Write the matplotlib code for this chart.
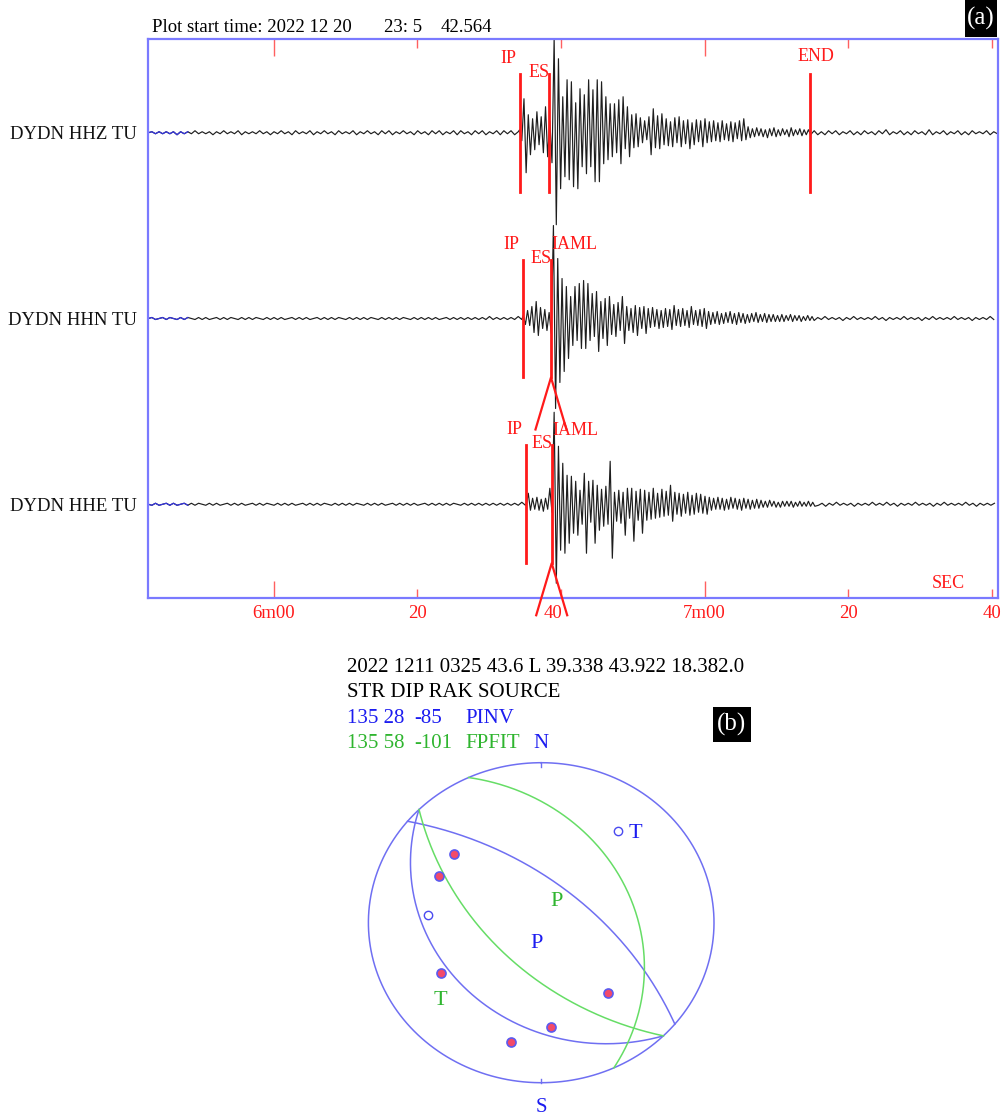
import numpy as np
import matplotlib.pyplot as plt
import matplotlib.transforms as mtransforms
from matplotlib.patches import Rectangle

plt.rcParams['font.family'] = ['Liberation Serif', 'DejaVu Serif']

W, H = 1003, 1115

# ---------------- seismogram data ----------------
stations = ['DYDN HHZ TU', 'DYDN HHN TU', 'DYDN HHE TU']
start_label = 'Plot start time: 2022 12 20'
start_hm = '23: 5'
start_sec = 42.564          # seconds after 23:05:00
start_min = 5
rec_len = 118.25            # seconds shown

AMP = 185.8                 # screen counts per trace spacing
DT_NOISE = 0.5
DT_SIG = 0.3

# pre-event noise (from plot start)
hhz_pre = [0, 1, -1, 1, -1, 1, -1, 1, -2, 1, -1, 1, -1, 2, -1, 1, -1, 1, -2, 1,
           -1, 2, -1, 1, -1, 2, -2, 1, -1, 1, -1, 2, -1, 1, -2, 1, -1, 2, -1, 1,
           -2, 2, -1, 1, -1, 2, -2, 1, -1, 2, -1, 1, -2, 2, -1, 1, -1, 2, -2, 1,
           -1, 2, -1, 1, -2, 2, -1, 2, -2, 1, -1, 2, -1, 1, -2, 2, -1, 1, -2, 2,
           -1, 2, -2, 1, -1, 2, -2, 2, -1, 1, -2, 2, -1, 2, -2, 1, -1, 2, -2, 2,
           -1, 2, -2, 1]
hhn_pre = [0, 1, -1, 0, 1, -1, 1, 0, -1, 1, -1, 1, 0, -1, 1, -1, 1, -1, 0, 1,
           -1, 1, -1, 1, 0, -1, 1, -1, 1, -1, 1, 0, -1, 1, -1, 1, -1, 1, -1, 0,
           1, -1, 1, -1, 1, -1, 0, 1, -1, 1, -1, 1, -1, 1, 0, -1, 1, -1, 1, -1,
           1, -1, 1, 0, -1, 1, -1, 1, -1, 1, -1, 1, 0, -1, 1, -1, 1, -1, 1, -1,
           1, -1, 0, 1, -1, 1, -1, 1, -1, 1, -1, 1, -1, 1, -1, 2, -1, 1, -1, 1,
           -1, 1, -1, 2, -1]
hhe_pre = [0, -1, 1, -1, 0, 1, -1, 1, -1, 0, 1, -1, 1, -1, 1, 0, -1, 1, -1, 1,
           -1, 0, 1, -1, 1, -1, 1, -1, 0, 1, -1, 1, -1, 1, 0, -1, 1, -1, 1, -1,
           1, -1, 0, 1, -1, 1, -1, 1, -1, 1, 0, -1, 1, -1, 1, -1, 1, -1, 1, 0,
           -1, 1, -1, 1, -1, 1, -1, 0, 1, -1, 1, -1, 1, -1, 1, -1, 0, 1, -1, 1,
           -1, 1, -1, 1, -1, 1, 0, -1, 1, -1, 1, -1, 1, -1, 1, -1, 1, -1, 1, -1,
           1, -1, 1, -1, 2, -1]

# signal peaks from the P onset
hhz_sig = [3, -8, 34, -40,
           18, -22, 14, -17, 21, -12, 16, -20, 26, -24,
           12, -30,
           95, -92, 74, -56,
           36, -44, 53, -47, 51, -54, 30, -56, 44, -34, 38, -41, 53, -34, 43, -49, 53, -49, 51, -31,
           36, -27, 29, -24, 29, -20, 33, -31, 36, -16, 26, -24, 18, -15, 19, -14, 15, -10, 12, -7,
           16, -22, 24, -15, 17, -16, 19, -12, 14, -13, 11, -14, 15, -10, 16, -14, 12, -11, 13, -16,
           10, -12, 13, -9, 12, -14, 14, -10,
           11, -9, 12, -8, 10, -9, 12, -7, 9, -8, 11, -9, 10, -6, 12, -8, 14, -7,
           6, -5, 4, -4, 5, -3, 4, -4, 3, -5, 4, -3, 5, -4, 3, -3, 4, -2, 3, -4,
           5, -3, 3, -2, 4, -3, 3, -2, 3, -2]
hhn_sig = [3, -6,
           8, -7, 12, -14, 17, -17, 11, -10, 9, -12,
           6, -15,
           93, -90, 60, -64,
           40, -53, 32, -40, 22, -27, 32, -22, 35, -30, 38, -30, 35, -22, 25, -18, 27, -33,
           17, -20, 20, -27, 22, -16, 14, -18, 16, -12, 22, -25,
           12, -12, 10, -14, 13, -17, 11, -10, 12, -15, 10, -9, 11, -8, 9, -10, 8, -9, 10, -8,
           9, -11, 13, -7, 9, -8, 10, -7, 8, -9, 12, -6, 8, -7, 9, -8, 10, -10,
           7, -6, 6, -5, 7, -6, 5, -5, 6, -4, 7, -5, 5, -6, 6, -4, 5, -5, 4, -4,
           5, -3, 6, -4, 4, -3, 5, -4, 4, -3, 4, -3, 3,
           -3, 4, -3, 3, -2, 4, -3, 3, -2, 3, -3, 2, -2, 3, -2, 2, -2]
hhe_sig = [-1, 11, -6, 6, -5, 7, -6, 5, -7, 6, -5,
           16, -8,
           92, -79, 58, -46, 41, -49, 29, -39, 28, -29, 23, -31, 14, -20, 31, -49, 23, -18,
           24, -39, 19, -26, 15, -22, 18, -20, 43, -54,
           12, -17, 14, -19, 12, -31, 16, -14, 16, -37, 13, -16, 15, -29, 14, -16, 12, -15,
           16, -14, 11, -13, 15, -12, 13, -11, 19, -17, 12, -10, 11, -12, 10, -9, 12, -11,
           9, -10, 11, -8, 10, -9, 8, -10,
           7, -6, 6, -5, 7, -5, 6, -6, 5, -5, 7, -4, 6, -5, 5, -6, 6, -4, 5, -5,
           4, -4, 5, -4, 4, -3,
           3, -3, 4, -2, 3, -3, 2, -3, 3, -2, 3, -2, 3, -3, 2, -2, 3, -2, 2, -2,
           3, -2, 2, -2]

# coda tail after the signal list
hhz_post = [2, -2, 1, -2, 2, -1, 2, -2, 1, -1, 2, -2, 1, -2, 2, -1, 1, -2, 2, -1,
            3, -2, 1, -1, 2, -2, 1, -2, 2, -1, 1, -2, 3, -2, 1, -1, 2, -2, 1, -1,
            2, -2, 1, -2, 2, -1, 1, -1, 2, -2, 1, -1]
hhn_post = [1, -1, 2, -1, 1, -1, 1, -2, 1, -1, 2, -1, 1, -1, 1, -1, 2, -1, 1, -2,
            1, -1, 1, -1, 2, -1, 1, -1, 1, -2, 1, -1, 2, -1, 1, -1, 1, -1, 2, -1,
            1, -1, 1, -2, 1, -1, 1, -1, 2, -1]
hhe_post = [-1, 1, -2, 1, -1, 2, -1, 1, -1, 1, -2, 1, -1, 1, -1, 2, -1, 1, -1, 2,
            -1, 1, -2, 1, -1, 1, -1, 2, -1, 1, -1, 1, -2, 1, -1, 2, -1, 1, -1, 1,
            -1, 2, -1, 1, -2, 1, -1, 1, -1, 1]

# phase picks (seconds after plot start)
pick_trace = [0, 0, 0, 1, 1, 1, 2, 2, 2]
pick_phase = ['IP', 'ES', 'END', 'IP', 'ES', 'IAML', 'IP', 'ES', 'IAML']
pick_time = [51.7, 55.83, 92.1, 52.2, 56.06, 56.06, 52.6, 56.16, 56.16]

# ---------------- focal mechanism data ----------------
header_line = '2022 1211 0325 43.6 L 39.338 43.922 18.382.0'
sol_names = ['PINV', 'FPFIT']
sol_strike = [135, 135]
sol_dip = [28, 58]
sol_rake = [-85, -101]
sol_color = ['#1c1cf0', '#2fb52f']
sol_line = ['#6f6ff2', '#66dd66']

pol_x = [-0.503, -0.593, -0.657, -0.580, 0.385, 0.057, -0.175, 0.446]
pol_y = [0.428, 0.292, 0.048, -0.316, -0.441, -0.654, -0.744, 0.575]
pol_up = [True, True, False, True, True, True, True, False]


def fx(x):
    return x / W


def fy(y):
    return 1 - y / H


fig = plt.figure(figsize=(W / 100, H / 100), dpi=100)

# ---------------- seismogram panel ----------------
ax = fig.add_axes([fx(148.3), fy(597.7), 849.4 / W, 558.4 / H])
red = '#ff1a1a'
frame = '#7a7aff'

traces = [(hhz_pre, hhz_sig, hhz_post), (hhn_pre, hhn_sig, hhn_post),
          (hhe_pre, hhe_sig, hhe_post)]
onsets = [pick_time[i] for i in range(len(pick_time)) if pick_phase[i] == 'IP']

for k, (pre, sig, post) in enumerate(traces):
    t_on = onsets[k]
    t_pre = np.arange(len(pre)) * DT_NOISE
    keep = t_pre < t_on
    t_sig = t_on + np.arange(len(sig)) * DT_SIG
    t_post = t_sig[-1] + (np.arange(len(post)) + 1) * DT_NOISE
    t = np.concatenate([t_pre[keep], t_sig, t_post])
    a = np.concatenate([np.array(pre)[keep], sig, post])
    m = t <= rec_len
    t, y = t[m], -k + a[m] / AMP
    ax.plot(t, y, color='#1e1e1e', lw=0.85)
    b = t <= 5.8
    ax.plot(t[b], y[b], color='#3535e0', lw=0.9)
    ax.annotate(stations[k], xy=(0, -k), xycoords=('axes fraction', 'data'),
                xytext=(-8.4, -4.5), textcoords='offset points',
                ha='right', va='baseline', fontsize=13.5, color='#111111')

half = 59 / AMP
label_off = {'IP': (-2.7, 50.4, 'right'), 'ES': (0.5, 40.3, 'right'),
             'IAML': (0.3, 49.7, 'left'), 'END': (-9.1, 51.6, 'left')}
caret_w = 15.5 / 7.183
caret_h = 52 / AMP
for tr, ph, tp in zip(pick_trace, pick_phase, pick_time):
    if ph != 'IAML':
        ax.plot([tp, tp], [-tr - half, -tr + half], color=red, lw=2, zorder=4)
    else:
        ax.plot([tp - caret_w, tp, tp + caret_w],
                [-tr - half - caret_h, -tr - half, -tr - half - caret_h],
                color=red, lw=1.6, zorder=4, clip_on=False)
    dx, dy, ha = label_off[ph]
    ax.annotate(ph, xy=(tp, -tr), xytext=(dx, dy), textcoords='offset points',
                ha=ha, va='baseline', fontsize=13, color=red, zorder=5)

ax.set_xlim(0, rec_len)
ax.set_ylim(-2.503, 0.503)
ax.set_yticks([])

tick_abs = [360, 380, 400, 420, 440, 460]
tick_lab = ['6m00', '20', '40', '7m00', '20', '40']
tick_pos = [s - (start_min * 60 + start_sec) for s in tick_abs]
maj = [p for p, s in zip(tick_pos, tick_abs) if s % 60 == 0]
mn = [p for p, s in zip(tick_pos, tick_abs) if s % 60 != 0]
ax.set_xticks(maj)
ax.set_xticklabels([l for l, s in zip(tick_lab, tick_abs) if s % 60 == 0])
ax.set_xticks(mn, minor=True)
ax.set_xticklabels([l for l, s in zip(tick_lab, tick_abs) if s % 60 != 0], minor=True)
ax.tick_params(which='major', direction='in', length=12.3, width=1, color='#ff6060',
               top=True, labelcolor=red, labelsize=13.5, pad=5)
ax.tick_params(which='minor', direction='in', length=6.2, width=1, color='#ff6060',
               top=True, labelcolor=red, labelsize=13.5, pad=5)
# the 6m40 label sits a little left of its tick
lab40 = ax.get_xticklabels(minor=True)[1]
lab40.set_transform(lab40.get_transform() +
                    mtransforms.ScaledTranslation(-6 / 72, 0, fig.dpi_scale_trans))
for sp in ax.spines.values():
    sp.set_color(frame)
    sp.set_linewidth(1.6)

ax.text((948 - 148.3) / 849.4, (597.7 - 588.3) / 558.4, 'SEC', transform=ax.transAxes,
        color=red, fontsize=13, ha='center', va='baseline')

fig.text(fx(151.7), fy(32.5), start_label, fontsize=13.5, va='baseline')
fig.text(fx(384), fy(32.5), start_hm, fontsize=13.5, va='baseline')
fig.text(fx(440.7), fy(32.5), f'{start_sec:.3f}', fontsize=13.5, va='baseline')

# panel tags
for (x0, y0, x1, y1, tag) in [(965, 0, 997, 37, '(a)'), (713, 706.7, 750.7, 741.7, '(b)')]:
    fig.add_artist(Rectangle((fx(x0), fy(y1)), (x1 - x0) / W, (y1 - y0) / H,
                             transform=fig.transFigure, facecolor='black', edgecolor='none'))
    fig.text(fx((x0 + x1) / 2), fy((y0 + y1) / 2), tag, color='white', fontsize=18,
             ha='center', va='center')

# ---------------- focal mechanism text ----------------
fig.text(fx(346.7), fy(671.7), header_line, fontsize=15, va='baseline')
fig.text(fx(346.7), fy(696.7), 'STR DIP RAK SOURCE', fontsize=15, va='baseline')
for j, yb in enumerate([723.3, 748.3]):
    c = sol_color[j]
    fig.text(fx(346.7), fy(yb), f'{sol_strike[j]} {sol_dip[j]}', fontsize=15, va='baseline', color=c)
    fig.text(fx(414.3), fy(yb), f'{sol_rake[j]}', fontsize=15, va='baseline', color=c)
    fig.text(fx(465), fy(yb), sol_names[j], fontsize=15, va='baseline', color=c)
fig.text(fx(540.7), fy(748.3), 'N', fontsize=15, va='baseline', ha='center', color=sol_color[0])
fig.text(fx(541.7), fy(1111.7), 'S', fontsize=15, va='baseline', ha='center', color=sol_color[0])


# ---------------- focal sphere (lower hemisphere, stereographic) ----------------
def plane_vectors(strike, dip, n=241):
    phi, dl = np.radians(strike), np.radians(dip)
    a = np.linspace(0, np.pi, n)
    s = np.array([np.cos(phi), np.sin(phi), 0.0])
    d = np.array([np.cos(dl) * np.cos(phi + np.pi / 2),
                  np.cos(dl) * np.sin(phi + np.pi / 2), np.sin(dl)])
    return np.outer(np.cos(a), s) + np.outer(np.sin(a), d)


def stereo(v):
    v = np.atleast_2d(np.array(v, dtype=float))
    v[v[:, 2] < 0] *= -1
    trend = np.arctan2(v[:, 1], v[:, 0])
    plunge = np.arcsin(np.clip(v[:, 2], -1, 1))
    r = np.tan((np.pi / 2 - plunge) / 2)
    return r * np.sin(trend), r * np.cos(trend)


def normal_slip(strike, dip, rake):
    phi, dl, lam = np.radians([strike, dip, rake])
    n = np.array([-np.sin(dl) * np.sin(phi), np.sin(dl) * np.cos(phi), -np.cos(dl)])
    d = np.array([np.cos(lam) * np.cos(phi) + np.sin(lam) * np.cos(dl) * np.sin(phi),
                  np.cos(lam) * np.sin(phi) - np.sin(lam) * np.cos(dl) * np.cos(phi),
                  -np.sin(lam) * np.sin(dl)])
    return n, d


def aux_plane(strike, dip, rake):
    _, d = normal_slip(strike, dip, rake)
    if d[2] > 0:
        d = -d
    return np.degrees(np.arctan2(-d[0], d[1])) % 360, np.degrees(np.arccos(-d[2]))


bx = fig.add_axes([fx(368.4), fy(1082.7), 345.6 / W, 320 / H])
bx.set_xlim(-1, 1)
bx.set_ylim(-1, 1)
bx.axis('off')

th = np.linspace(0, 2 * np.pi, 400)
bx.plot(np.sin(th), np.cos(th), color=sol_line[0], lw=1.1, clip_on=False)
bx.plot([0, 0], [1, 0.975], color=sol_line[0], lw=1, clip_on=False)
bx.plot([0, 0], [-1, -0.975], color=sol_line[0], lw=1, clip_on=False)

for j in range(len(sol_names)):
    s2, d2 = aux_plane(sol_strike[j], sol_dip[j], sol_rake[j])
    for st, dp in [(sol_strike[j], sol_dip[j]), (s2, d2)]:
        x, y = stereo(plane_vectors(st, dp))
        bx.plot(x, y, color=sol_line[j], lw=1.1, clip_on=False)
    n, d = normal_slip(sol_strike[j], sol_dip[j], sol_rake[j])
    for name, vec in [('P', (n - d) / np.sqrt(2)), ('T', (n + d) / np.sqrt(2))]:
        x, y = stereo(vec)
        bx.annotate(name, xy=(x[0], y[0]), xytext=(2.5, 0), textcoords='offset points',
                    color=sol_color[j], fontsize=16, ha='left', va='center')

for x, y, up in zip(pol_x, pol_y, pol_up):
    if up:
        bx.plot(x, y, 'o', ms=6.5, mfc='#f24a6a', mec='#5a5af0', mew=1.2, clip_on=False)
    else:
        bx.plot(x, y, 'o', ms=6, mfc='white', mec='#4a4af0', mew=1.0, clip_on=False)

fig.savefig('out.png', dpi=100)
